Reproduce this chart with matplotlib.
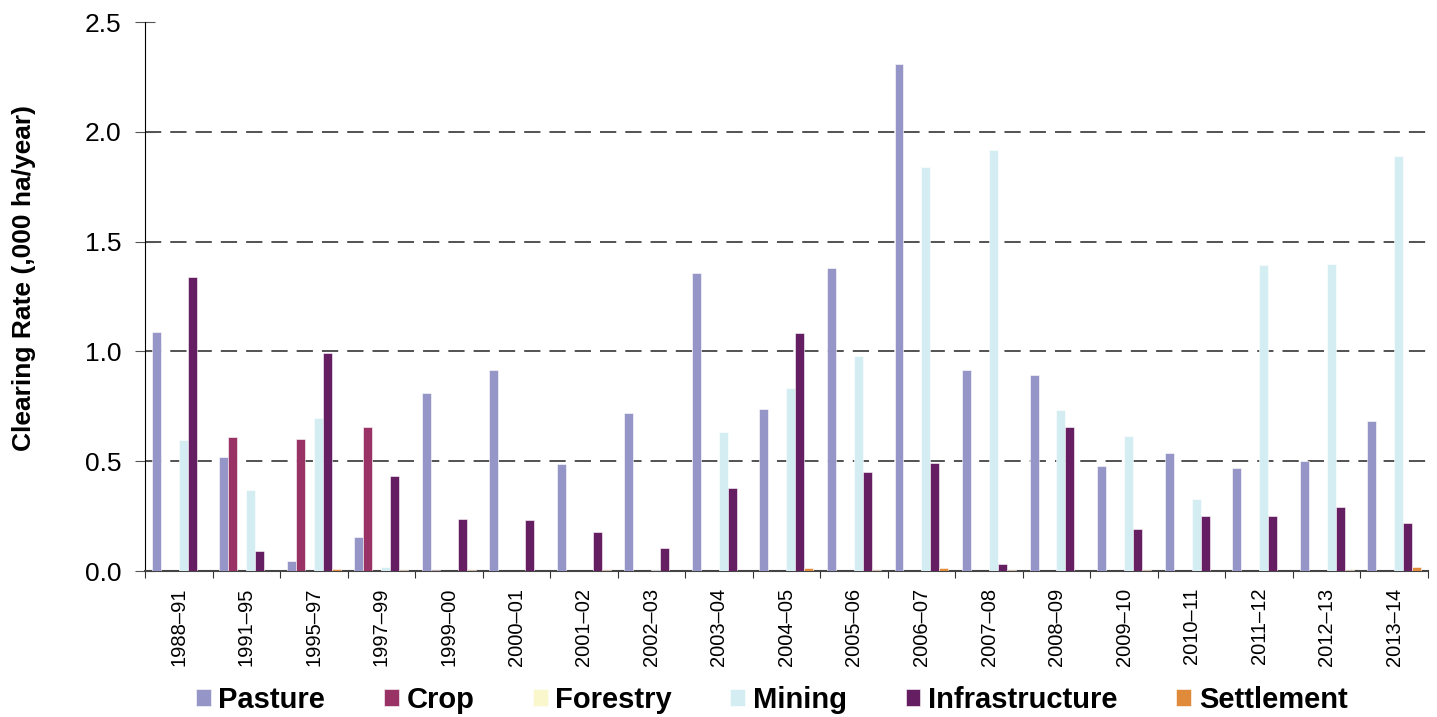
import matplotlib
matplotlib.use("Agg")
import matplotlib.pyplot as plt
import numpy as np

plt.rcParams["font.family"] = ["Liberation Sans", "DejaVu Sans"]

periods = ["1988–91", "1991–95", "1995–97", "1997–99", "1999–00", "2000–01", "2001–02",
           "2002–03", "2003–04", "2004–05", "2005–06", "2006–07", "2007–08", "2008–09",
           "2009–10", "2010–11", "2011–12", "2012–13", "2013–14"]
pasture = [1.09, 0.52, 0.044, 0.155, 0.809, 0.917, 0.487, 0.718, 1.357, 0.736, 1.38, 2.309,
           0.915, 0.891, 0.48, 0.536, 0.469, 0.50, 0.682]
crop = [0.0, 0.609, 0.60, 0.654, 0.003, 0.0, 0.0, 0.0, 0.0, 0.0, 0.0, 0.0, 0.0, 0.0, 0.0,
        0.0, 0.0, 0.0, 0.0]
forestry = [0.0] * 19
mining = [0.597, 0.369, 0.697, 0.018, 0.0, 0.0, 0.0, 0.003, 0.633, 0.833, 0.979, 1.84,
          1.917, 0.733, 0.615, 0.328, 1.393, 1.40, 1.89]
infrastructure = [1.339, 0.09, 0.991, 0.431, 0.235, 0.231, 0.176, 0.105, 0.379, 1.085, 0.451,
                  0.492, 0.032, 0.656, 0.19, 0.249, 0.25, 0.291, 0.217]
settlement = [0.002, 0.0, 0.009, 0.003, 0.003, 0.0, 0.003, 0.0, 0.002, 0.014, 0.003, 0.015,
              0.003, 0.0, 0.006, 0.0, 0.0, 0.006, 0.018]

series = [("Pasture", pasture, "#9595C8"),
          ("Crop", crop, "#993366"),
          ("Forestry", forestry, "#FAF7CC"),
          ("Mining", mining, "#D4EDF3"),
          ("Infrastructure", infrastructure, "#641E61"),
          ("Settlement", settlement, "#E08A3C")]

fig = plt.figure(figsize=(14.37, 7.17), dpi=100)
ax = fig.add_axes([0.1009, 0.2036, 0.8928, 0.7657])

n = len(periods)
x = np.arange(n)
bw = 0.133
for i, (name, vals, col) in enumerate(series):
    ax.bar(x - 0.4 + bw * (i + 0.5), vals, width=bw, color=col, edgecolor="white",
           linewidth=0.4, label=name, zorder=3)

ax.set_xlim(-0.5, n - 0.5)
ax.set_ylim(0, 2.5)
ax.set_yticks([0, 0.5, 1.0, 1.5, 2.0, 2.5])
ax.set_yticklabels(["0.0", "0.5", "1.0", "1.5", "2.0", "2.5"], fontsize=19)
for yv in [0.5, 1.0, 1.5, 2.0]:
    ax.axhline(yv, color="#444444", linestyle=(0, (9, 5)), linewidth=1.3, zorder=1)

ax.set_xticks(np.arange(n + 1) - 0.5)
ax.set_xticklabels([])
ax.set_xticks(x, minor=True)
ax.set_xticklabels(periods, minor=True, rotation=90, fontsize=14.5)
ax.tick_params(axis="x", which="minor", length=0, pad=12)
ax.tick_params(axis="x", which="major", length=5, direction="out", color="#333333")
ax.tick_params(axis="y", length=14, direction="inout", color="#555555", pad=10)

ax.spines["top"].set_visible(False)
ax.spines["right"].set_visible(False)
ax.spines["left"].set_color("black")
ax.spines["bottom"].set_color("#444444")
ax.spines["bottom"].set_linewidth(1.5)

ax.set_ylabel("Clearing Rate (,000 ha/year)", fontsize=19, fontweight="bold", va="center")
ax.yaxis.set_label_coords(-0.0943, 0.533)

leg = fig.legend(loc="center", bbox_to_anchor=(0.537, 0.024), ncol=6, frameon=False,
                 prop={"weight": "bold", "size": 21},
                 handlelength=0.51, handleheight=0.55,
                 handletextpad=0.27, columnspacing=2.0)

fig.savefig("out.png", dpi=100)
